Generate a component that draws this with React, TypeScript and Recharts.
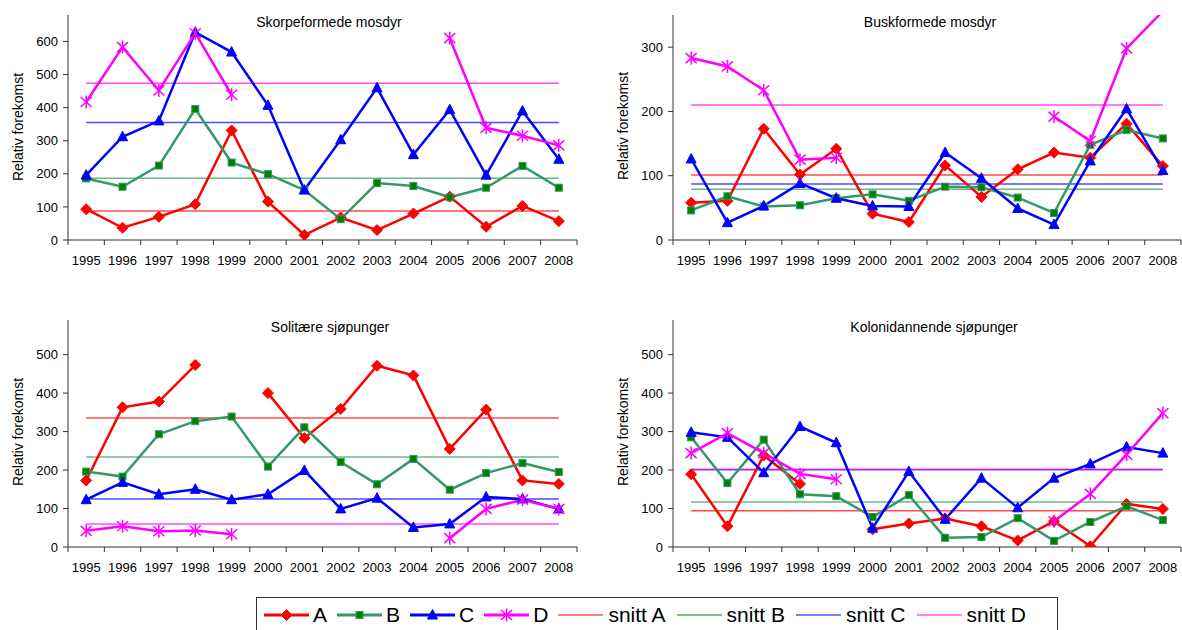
import React from "react";
import { LineChart, Line, XAxis, YAxis, ReferenceLine } from "recharts";

const years = ["1995", "1996", "1997", "1998", "1999", "2000", "2001", "2002", "2003", "2004", "2005", "2006", "2007", "2008"];

// Skorpeformede mosdyr
const skorpeA = [93, 37, 70, 108, 331, 116, 15, 68, 30, 80, 131, 40, 103, 57];
const skorpeB = [186, 161, 225, 396, 234, 199, 151, 63, 172, 163, 129, 158, 224, 158];
const skorpeC = [196, 312, 360, 628, 568, 407, 151, 303, 460, 258, 394, 196, 390, 244];
const skorpeD = [417, 583, 452, 625, 439, null, null, null, null, null, 610, 339, 315, 286];
const skorpeSnitt = [88, 187, 355, 474];

// Buskformede mosdyr
const buskA = [58, 61, 173, 102, 142, 41, 28, 116, 67, 110, 136, 128, 181, 115];
const buskB = [46, 68, 52, 54, 65, 71, 61, 83, 82, 66, 42, 148, 171, 158];
const buskC = [126, 27, 53, 88, 65, 53, 52, 136, 96, 49, 24, 123, 204, 108];
const buskD = [283, 270, 233, 125, 128, null, null, null, null, null, 192, 154, 298, 356];
const buskSnitt = [101, 79, 87, 210];

// Solitære sjøpunger
const solA = [173, 363, 378, 473, null, 400, 283, 359, 471, 446, 255, 357, 173, 164];
const solB = [196, 183, 293, 327, 339, 209, 311, 221, 163, 229, 149, 192, 218, 195];
const solC = [123, 168, 137, 150, 123, 137, 199, 99, 127, 51, 60, 130, 125, 99];
const solD = [42, 54, 41, 43, 33, null, null, null, null, null, 23, 99, 123, 99];
const solSnitt = [335, 234, 125, 60];

// Kolonidannende sjøpunger
const kolA = [189, 54, 238, 164, null, 46, 61, 74, 54, 17, 67, 2, 112, 99];
const kolB = [285, 166, 279, 137, 132, 78, 135, 24, 26, 75, 16, 65, 106, 70];
const kolC = [298, 285, 193, 313, 271, 49, 196, 72, 179, 102, 179, 216, 260, 244];
const kolD = [244, 296, 244, 190, 176, null, null, null, null, null, 67, 138, 240, 348];
const kolSnitt = [94, 117, 201, 202];

const seriesNames = ["A", "B", "C", "D"];
const lineColors = ["#FF0000", "#339966", "#0000FF", "#FF00FF"];
const snittColors = ["#FF0000", "#2E9960", "#0000FF", "#FF00FF"];
const legendSnittColors = ["#FF0000", "#008000", "#0000FF", "#FF00FF"];

const AXIS = "#333";
const FONT = "Arial, 'Liberation Sans', sans-serif";

type Val = number | null;

function Marker({ kind, cx, cy }: { kind: number; cx: number; cy: number }) {
  if (kind === 0) {
    return <polygon points={`${cx},${cy - 5.5} ${cx + 5.5},${cy} ${cx},${cy + 5.5} ${cx - 5.5},${cy}`} fill="#FF0000" stroke="#FF0000" />;
  }
  if (kind === 1) {
    return <rect x={cx - 3.5} y={cy - 3.5} width={7} height={7} fill="#008000" stroke="#339966" strokeWidth={1} />;
  }
  if (kind === 2) {
    return <polygon points={`${cx},${cy - 5.5} ${cx + 5},${cy + 4} ${cx - 5},${cy + 4}`} fill="#0000FF" stroke="#0000FF" />;
  }
  return (
    <g stroke="#FF00FF" strokeWidth={1.5}>
      <line x1={cx} x2={cx} y1={cy - 6.5} y2={cy + 6.5} />
      <line x1={cx - 5.5} x2={cx + 5.5} y1={cy - 5} y2={cy + 5} />
      <line x1={cx - 5.5} x2={cx + 5.5} y1={cy + 5} y2={cy - 5} />
    </g>
  );
}

// markers outside the value axis range are hidden, as in the original
function makeDot(kind: number, yMax: number) {
  return (p: any) => {
    if (p.cy == null || p.cx == null || p.value == null || p.value > yMax) return <g key={`e${p.index}`} />;
    return (
      <g key={`d${kind}-${p.index}`}>
        <Marker kind={kind} cx={p.cx} cy={p.cy} />
      </g>
    );
  };
}

function YearTick(props: any) {
  const { x, y, payload, index, bw, count } = props;
  const half = bw / 2;
  return (
    <g>
      <line x1={x - half} x2={x - half} y1={y} y2={y + 5} stroke={AXIS} />
      {index === count - 1 && <line x1={x + half} x2={x + half} y1={y} y2={y + 5} stroke={AXIS} />}
      <text x={x} y={y + 25} textAnchor="middle" fontSize={13} fill="#000" fontFamily={FONT}>
        {payload.value}
      </text>
    </g>
  );
}

interface PanelProps {
  series: Val[][];
  snitt: number[];
  yMax: number;
  yTicks: number[];
  left: number;
  top: number;
  width: number;
  height: number;
  margin: { top: number; right: number; bottom: number; left: number };
}

function Panel({ series, snitt, yMax, yTicks, left, top, width, height, margin }: PanelProps) {
  const data = years.map((year, i) => ({
    year,
    A: series[0][i],
    B: series[1][i],
    C: series[2][i],
    D: series[3][i],
  }));
  const plotW = width - margin.left - margin.right - 50;
  const bw = plotW / years.length;
  return (
    <div style={{ position: "absolute", left, top }}>
      <LineChart width={width} height={height} data={data} margin={margin}>
        <XAxis
          dataKey="year"
          type="category"
          interval={0}
          height={30}
          padding={{ left: bw / 2, right: bw / 2 }}
          tickSize={0}
          tickMargin={0}
          tickLine={false}
          axisLine={{ stroke: AXIS }}
          tick={<YearTick bw={bw} count={years.length} />}
        />
        <YAxis
          width={50}
          domain={[0, yMax]}
          ticks={yTicks}
          allowDataOverflow
          interval={0}
          tickSize={5}
          tickMargin={5}
          axisLine={{ stroke: AXIS }}
          tickLine={{ stroke: AXIS }}
          tick={{ fontSize: 13, fill: "#000", fontFamily: FONT }}
        />
        {snitt.map((m, k) => (
          <ReferenceLine
            key={`snitt${k}`}
            segment={[
              { x: years[0], y: m },
              { x: years[years.length - 1], y: m },
            ]}
            stroke={snittColors[k]}
            strokeWidth={1.5}
            strokeOpacity={0.7}
          />
        ))}
        {seriesNames.map((name, k) => (
          <Line
            key={name}
            dataKey={name}
            type="linear"
            stroke={lineColors[k]}
            strokeWidth={2.5}
            dot={makeDot(k, yMax)}
            activeDot={false}
            isAnimationActive={false}
          />
        ))}
      </LineChart>
    </div>
  );
}

function LegendMarker({ kind }: { kind: number }) {
  return (
    <svg width={45} height={20} style={{ display: "block" }}>
      <line x1={0} x2={45} y1={10} y2={10} stroke={lineColors[kind]} strokeWidth={3} />
      <Marker kind={kind} cx={22.5} cy={10} />
    </svg>
  );
}

function LegendSnitt({ kind }: { kind: number }) {
  return (
    <svg width={45} height={20} style={{ display: "block" }}>
      <line x1={0} x2={45} y1={10} y2={10} stroke={legendSnittColors[kind]} strokeWidth={1.2} />
    </svg>
  );
}

function Legend() {
  return (
    <div
      style={{
        position: "absolute",
        left: 256,
        top: 597,
        width: 802,
        height: 36,
        border: `1px solid ${AXIS}`,
        boxSizing: "border-box",
        display: "flex",
        alignItems: "center",
        paddingLeft: 7,
        fontFamily: FONT,
        fontSize: 21,
        color: "#000",
      }}
    >
      {seriesNames.map((name, k) => (
        <div key={name} style={{ display: "flex", alignItems: "center", marginRight: 10 }}>
          <LegendMarker kind={k} />
          <span style={{ marginLeft: 4 }}>{name}</span>
        </div>
      ))}
      {seriesNames.map((name, k) => (
        <div key={`s${name}`} style={{ display: "flex", alignItems: "center", marginRight: 11 }}>
          <LegendSnitt kind={k} />
          <span style={{ marginLeft: 5 }}>snitt {name}</span>
        </div>
      ))}
    </div>
  );
}

const titles = ["Skorpeformede mosdyr", "Buskformede mosdyr", "Solitære sjøpunger", "Kolonidannende sjøpunger"];

export default function App() {
  const topMargin = { top: 15, right: 13, bottom: 20, left: 18 };
  const topMarginR = { top: 15, right: 1, bottom: 20, left: 33 };
  const botMargin = { top: 20, right: 13, bottom: 13, left: 18 };
  const botMarginR = { top: 20, right: 1, bottom: 13, left: 33 };
  return (
    <div
      style={{
        position: "absolute",
        left: 0,
        top: 0,
        width: 1182,
        height: 630,
        overflow: "hidden",
        background: "#fff",
        fontFamily: FONT,
      }}
    >
      <Panel
        series={[skorpeA, skorpeB, skorpeC, skorpeD]}
        snitt={skorpeSnitt}
        yMax={680}
        yTicks={[0, 100, 200, 300, 400, 500, 600]}
        left={0}
        top={0}
        width={590}
        height={290}
        margin={topMargin}
      />
      <Panel
        series={[buskA, buskB, buskC, buskD]}
        snitt={buskSnitt}
        yMax={350}
        yTicks={[0, 100, 200, 300]}
        left={590}
        top={0}
        width={592}
        height={290}
        margin={topMarginR}
      />
      <Panel
        series={[solA, solB, solC, solD]}
        snitt={solSnitt}
        yMax={590}
        yTicks={[0, 100, 200, 300, 400, 500]}
        left={0}
        top={300}
        width={590}
        height={290}
        margin={botMargin}
      />
      <Panel
        series={[kolA, kolB, kolC, kolD]}
        snitt={kolSnitt}
        yMax={590}
        yTicks={[0, 100, 200, 300, 400, 500]}
        left={590}
        top={300}
        width={592}
        height={290}
        margin={botMarginR}
      />
      <svg width={1182} height={630} style={{ position: "absolute", left: 0, top: 0, pointerEvents: "none" }}>
        <g fontFamily={FONT} fontSize={14} fill="#000">
          <text x={329} y={27} textAnchor="middle">{titles[0]}</text>
          <text x={930} y={27} textAnchor="middle">{titles[1]}</text>
          <text x={330} y={332} textAnchor="middle">{titles[2]}</text>
          <text x={934} y={332} textAnchor="middle">{titles[3]}</text>
          <text transform="translate(23,127) rotate(-90)" textAnchor="middle">Relativ forekomst</text>
          <text transform="translate(628,126) rotate(-90)" textAnchor="middle">Relativ forekomst</text>
          <text transform="translate(23,432) rotate(-90)" textAnchor="middle">Relativ forekomst</text>
          <text transform="translate(628,432) rotate(-90)" textAnchor="middle">Relativ forekomst</text>
        </g>
      </svg>
      <Legend />
    </div>
  );
}
